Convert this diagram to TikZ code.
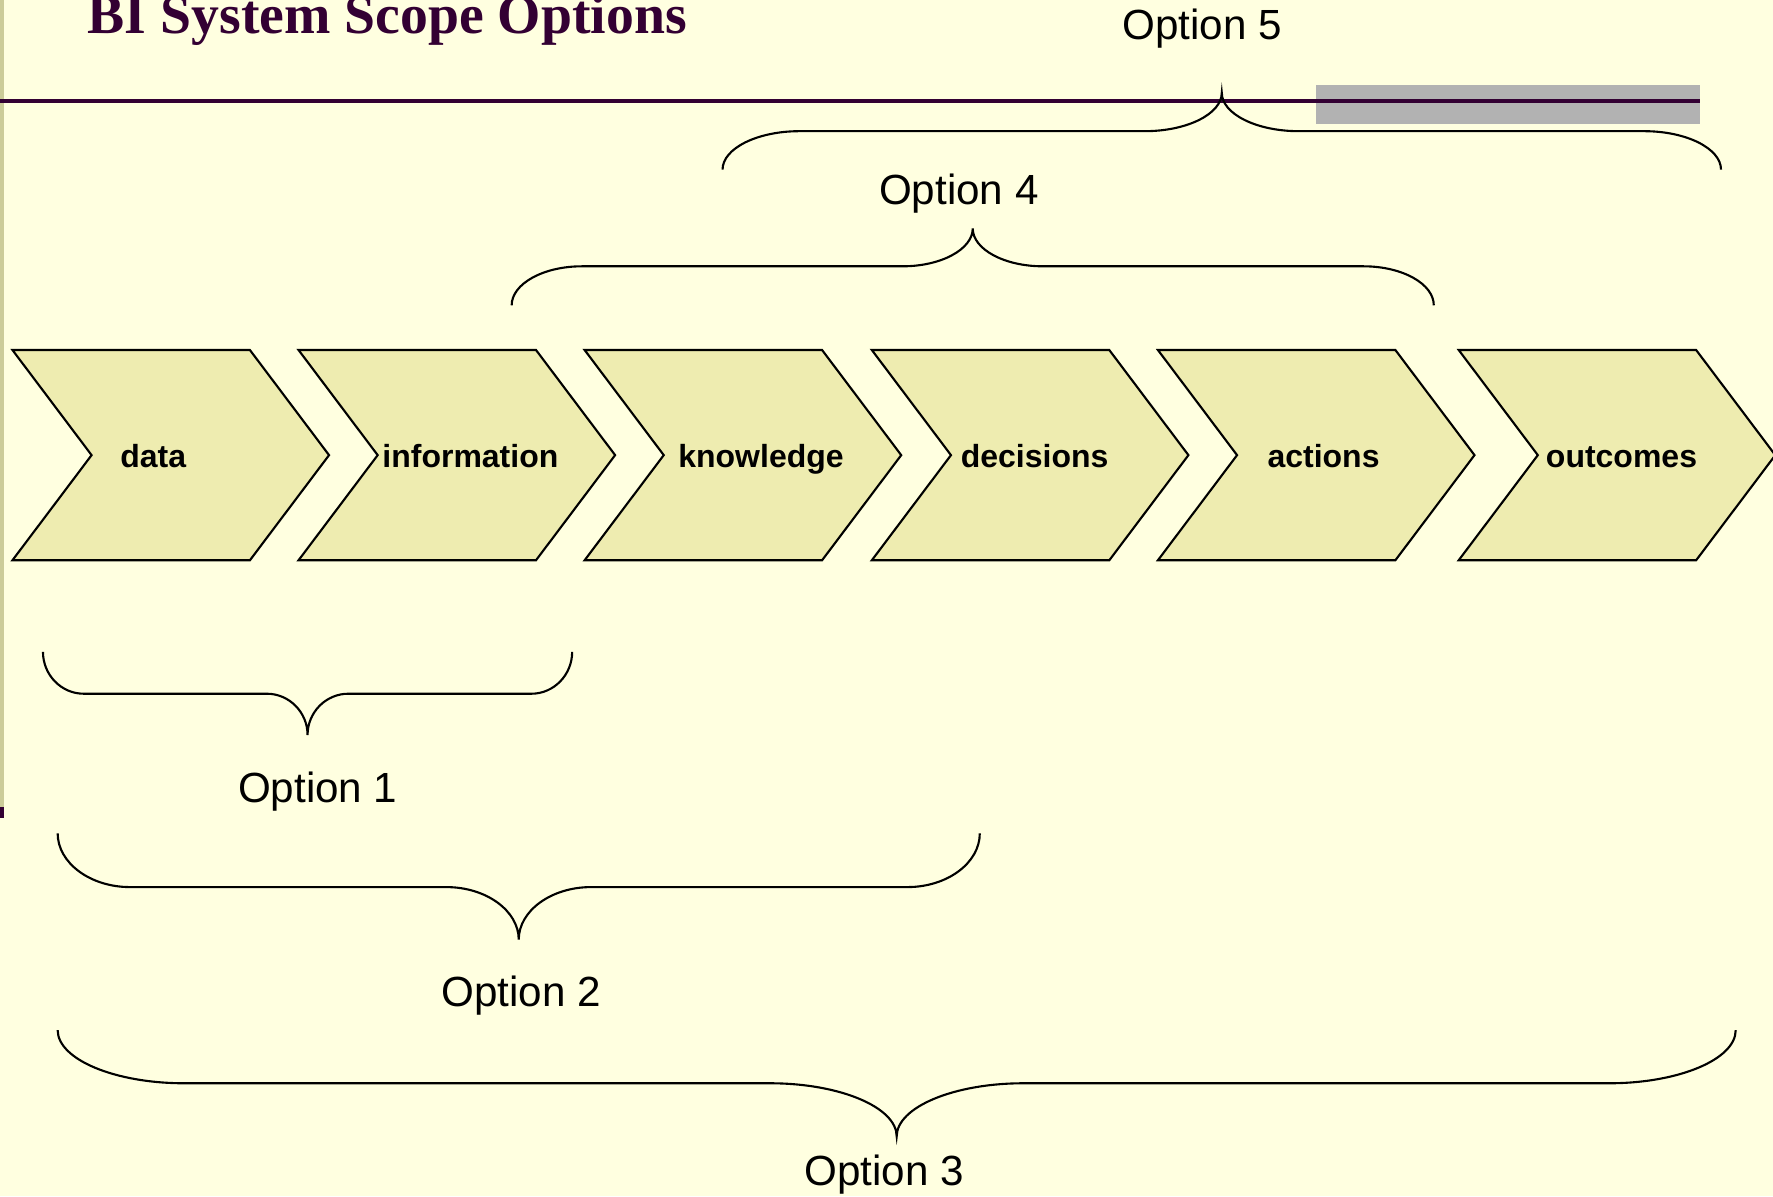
\documentclass[tikz,border=0pt]{standalone}
\usepackage{fontspec}
\setmainfont{Liberation Sans}
\newfontfamily\titlefont{Liberation Serif}
\definecolor{slidebg}{RGB}{255,255,224}
\definecolor{chevfill}{RGB}{238,236,176}
\definecolor{plum}{RGB}{51,0,51}
\definecolor{edgestripe}{RGB}{204,204,153}
\definecolor{barfill}{RGB}{178,178,178}

\begin{document}
\begin{tikzpicture}[x=0.11307mm, y=-0.11307mm,
    chevron/.style={draw=black, fill=chevfill, line width=0.6pt, line join=miter},
    step label/.style={font=\fontsize{9.1}{11}\selectfont\bfseries, anchor=base},
    option label/.style={font=\fontsize{12}{14}\selectfont, anchor=base},
    scope brace/.style={draw=black, line width=0.6pt}]
    \useasboundingbox (0,0) rectangle (1568,1058);
    \fill[slidebg] (0,0) rectangle (1568,1058);
    \fill[edgestripe] (0,0) rectangle (3.5,714);
    \fill[plum] (0,714) rectangle (3.5,723);
    \fill[barfill] (1164,75) rectangle (1503,110);
    \draw[plum, line width=1.15pt] (0,89.5) -- (1503,89.5);
    \node[font={\titlefont\fontsize{15.85}{18}\selectfont\bfseries}, text=plum, anchor=base west, inner sep=0pt] (title) at (77,29.5) {BI System Scope Options};

    \foreach \x/\lx/\word in {11/135.5/data, 264/416/information, 517/673/knowledge, 771/915/decisions, 1024/1170.5/actions, 1290/1434/outcomes}
    {
      \draw[chevron] (\x,309.5) -- ++(210,0) -- ++(70,93) -- ++(-70,93) -- ++(-210,0) -- ++(70,-93) -- cycle;
      \node[step label] (\word) at (\lx,413) {\word};
    }

    \foreach \xa/\xb/\ya/\yb/\yc/\w in {38/506/576.5/613.5/650/36, 51/866.5/737/784.5/831/64, 51/1535/911/958/1005/112, 452.5/1268/270/235.5/202/62, 639/1522/150/116/82/68}
    {
      \pgfmathsetmacro\xm{(\xa+\xb)/2}
      \draw[scope brace] (\xa,\ya) .. controls (\xa,{\ya+0.55*(\yb-\ya)}) and ({\xa+0.45*\w},\yb) .. ({\xa+\w},\yb)
        -- ({\xm-\w},\yb) .. controls ({\xm-0.45*\w},\yb) and (\xm,{\yb+0.45*(\yc-\yb)}) .. (\xm,\yc)
        .. controls (\xm,{\yb+0.45*(\yc-\yb)}) and ({\xm+0.45*\w},\yb) .. ({\xm+\w},\yb)
        -- ({\xb-\w},\yb) .. controls ({\xb-0.45*\w},\yb) and (\xb,{\ya+0.55*(\yb-\ya)}) .. (\xb,\ya);
    }

    \node[option label] (opt1) at (281,709.5) {Option 1};
    \node[option label] (opt2) at (461,890) {Option 2};
    \node[option label] (opt3) at (782,1048) {Option 3};
    \node[option label] (opt4) at (848,181) {Option 4};
    \node[option label] (opt5) at (1063,35) {Option 5};
\end{tikzpicture}
\end{document}
